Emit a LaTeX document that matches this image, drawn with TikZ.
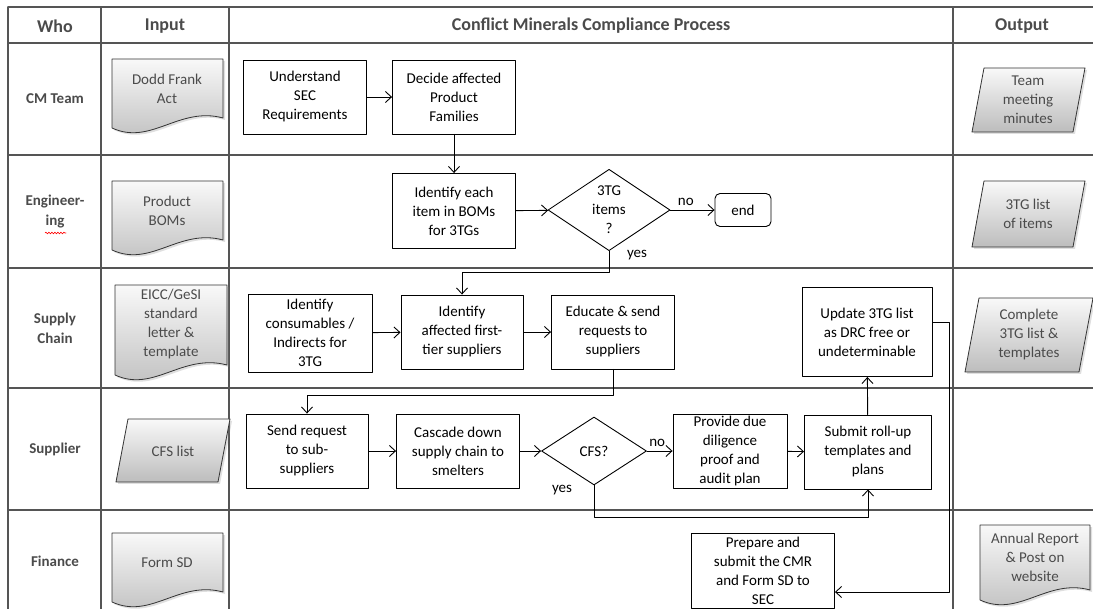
\documentclass[tikz,border=0pt]{standalone}
\usepackage{fontspec}
\setmainfont{Carlito}
\usetikzlibrary{arrows.meta}
\usetikzlibrary{positioning}
\usetikzlibrary{shapes.geometric}
\usetikzlibrary{shadows}
\usetikzlibrary{decorations.pathmorphing}
\definecolor{gridgray}{RGB}{85,85,85}
\definecolor{txtgray}{RGB}{75,75,75}

\begin{document}
\begin{tikzpicture}[line cap=round,line join=round,>={Straight Barb[length=6pt,width=11pt]},x=1pt,y=-1pt,
  font=\fontsize{15}{19}\selectfont,
  head/.style={font=\fontsize{18}{20}\selectfont\bfseries,text=txtgray},
  who/.style={font=\fontsize{15}{20}\selectfont\bfseries,text=txtgray,align=center},
  proc/.style={draw,line width=0.9pt,fill=white,align=center,inner sep=0pt,minimum width=123,minimum height=74},
  dec/.style={diamond,draw,line width=0.9pt,fill=white,align=center,inner sep=0pt},
  docu/.style={draw=black!80,line width=0.8pt,top color=gray!5,bottom color=gray!52,drop shadow={opacity=0.25,shadow xshift=2pt,shadow yshift=-2pt}},
  doctext/.style={text=txtgray,align=center},
  conn/.style={->,line width=0.9pt}]
\useasboundingbox (0,0) rectangle (1093,609);
\fill[white] (0,0) rectangle (1093,609);
% swimlane grid
\draw [line width=1.3pt,gridgray] (8,7)-- (1093,7);
\draw [line width=1.3pt,gridgray] (8,43)-- (1093,43);
\draw [line width=1.3pt,gridgray] (8,155)-- (1093,155);
\draw [line width=1.3pt,gridgray] (8,268)-- (1093,268);
\draw [line width=1.3pt,gridgray] (8,388)-- (1093,388);
\draw [line width=1.3pt,gridgray] (8,510)-- (1093,510);
\draw [line width=1.3pt,gridgray] (8,7)-- (8,609);
\draw [line width=1.3pt,gridgray] (101,7)-- (101,609);
\draw [line width=1.3pt,gridgray] (229,7)-- (229,609);
\draw [line width=1.3pt,gridgray] (953,7)-- (953,609);
% headers
\node[head] (hwho) at (55,26) {Who};
\node[head] (hin) at (165,26) {Input};
\node[head] (hproc) at (591,26) {Conflict Minerals Compliance Process};
\node[head] (hout) at (1022,26) {Output};
\node[who] (wcm) at (55,99) {CM Team};
\node[who] (weng) at (55,212) {Engineer-\\ing};
\node[who] (wsup) at (55,328) {Supply\\Chain};
\node[who] (wsr) at (55,449) {Supplier};
\node[who] (wfin) at (55,561) {Finance};
\draw [red,line width=0.6pt,decorate,decoration={snake,amplitude=0.8pt,segment length=3pt}] (45,233)-- (66,233);
% inputs
\draw [docu] (112,59)-- (223,59)-- (223,118) .. controls (179,106) and (151,146) .. (112,128)-- cycle;
\node[doctext] (dodd) at (167,89) {Dodd Frank\\Act};
\draw [docu] (112,181)-- (223,181)-- (223,240) .. controls (179,228) and (151,268) .. (112,250)-- cycle;
\node[doctext] (boms) at (167,211) {Product\\BOMs};
\draw [docu] (115,285)-- (227,285)-- (227,365) .. controls (182,353) and (154,393) .. (115,375)-- cycle;
\node[doctext] (eicc) at (171,324) {EICC/GeSI\\standard\\letter \&\\template};
\draw [docu] (128,419)-- (230,419)-- (218,482)-- (116,482)-- cycle;
\node[doctext] (cfslist) at (173,451) {CFS list};
\draw [docu] (112,533)-- (223,533)-- (223,592) .. controls (179,580) and (151,620) .. (112,602)-- cycle;
\node[doctext] (formsd) at (167,563) {Form SD};
% outputs
\draw [docu] (984,68)-- (1085,68)-- (1073,132)-- (972,132)-- cycle;
\node[doctext] (minutes) at (1028,100) {Team\\meeting\\minutes};
\draw [docu] (984,181)-- (1085,181)-- (1073,247)-- (972,247)-- cycle;
\node[doctext] (items) at (1028,214) {3TG list\\of items};
\draw [docu] (979,298)-- (1093,298)-- (1079,372)-- (965,372)-- cycle;
\node[doctext] (complete) at (1029,335) {Complete\\3TG list \&\\templates};
\draw [docu] (980,525)-- (1090,525)-- (1090,590) .. controls (1047,578) and (1019,618) .. (980,600)-- cycle;
\node[doctext] (annual) at (1035,557) {Annual Report\\\& Post on\\website};
% process steps
\node[proc] (sec) at (305,97) {Understand\\SEC\\Requirements};
\node[proc] (families) at (454,97) {Decide affected\\Product\\Families};
\node[proc,minimum height=75] (bomitems) at (454,211) {Identify each\\item in BOMs\\for 3TGs};
\node[dec,minimum width=122,minimum height=75] (has3tg) at (609,210) {3TG\\items\\?};
\node[draw,line width=0.9pt,rounded corners=5pt,minimum width=56,minimum height=33,inner sep=0pt] (stop) at (743,210) {end};
\node[proc,minimum width=124,minimum height=78] (consum) at (310,333) {Identify\\consumables /\\Indirects for\\3TG};
\node[proc,minimum width=122] (firsttier) at (462,332) {Identify\\affected first-\\tier suppliers};
\node[proc] (educate) at (613,332) {Educate \& send\\requests to\\suppliers};
\node[proc,minimum width=130,minimum height=89] (update) at (867,332) {Update 3TG list\\as DRC free or\\undeterminable};
\node[proc,minimum width=122] (subsup) at (307,451) {Send request\\to sub-\\suppliers};
\node[proc] (cascade) at (458,451) {Cascade down\\supply chain to\\smelters};
\node[dec,minimum width=105,minimum height=68] (iscfs) at (594,451) {CFS?};
\node[proc,minimum width=114] (duedil) at (730,451) {Provide due\\diligence\\proof and\\audit plan};
\node[proc,minimum width=127] (rollup) at (868,452) {Submit roll-up\\templates and\\plans};
\node[proc,minimum width=143,minimum height=75] (cmr) at (763,571) {Prepare and\\submit the CMR\\and Form SD to\\SEC};
% connectors
\draw [conn] (sec)-- (families);
\draw [conn] (families)-- (bomitems);
\draw [conn] (bomitems)-- (has3tg);
\draw [conn] (has3tg)-- node[above=1pt,pos=0.35] {no} (stop);
\coordinate (y1) at (609,272);
\draw [conn] (has3tg.south)-- (y1)-| (firsttier.north);
\node (yes1) at (637,255) {yes};
\draw [conn] (consum)-- (firsttier);
\draw [conn] (firsttier)-- (educate);
\coordinate (e1) at (613,395);
\draw [conn] (educate.south)-- (e1)-| (subsup.north);
\draw [conn] (subsup)-- (cascade);
\draw [conn] (cascade)-- (iscfs);
\draw [conn] (iscfs)-- node[above=1pt,pos=0.4] {no} (duedil);
\draw [conn] (duedil)-- (rollup);
\coordinate (c1) at (594,517);
\draw [conn] (iscfs.south)-- (c1)-| (rollup.south);
\node (yes2) at (562,490) {yes};
\draw [conn] (rollup)-- (update);
\coordinate (u1) at (949,322);
\coordinate (u2) at (949,592);
\draw [conn] (update.east |- u1)-- (u1)-- (u2)-- (cmr.east |- u2);
\end{tikzpicture}
\end{document}
